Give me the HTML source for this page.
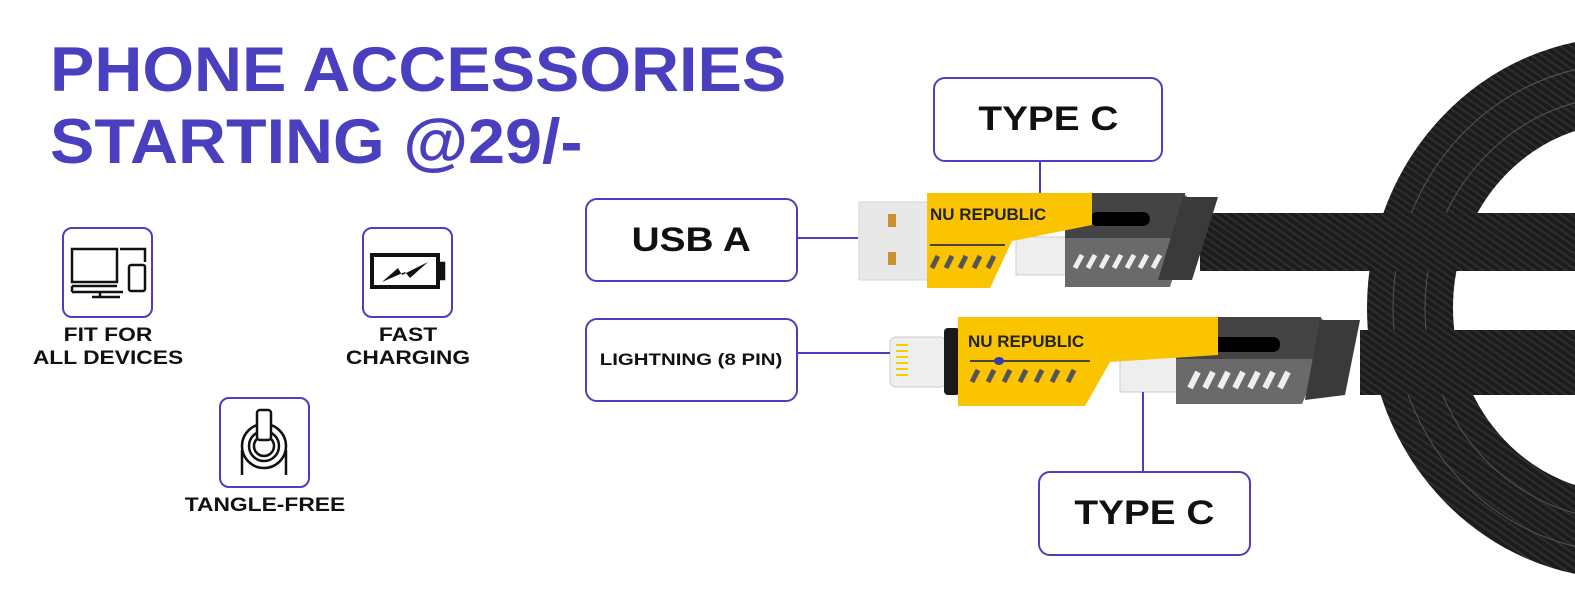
<!DOCTYPE html>
<html><head><meta charset="utf-8"><style>
body{margin:0;width:1575px;height:600px;overflow:hidden;background:#fff;font-family:"Liberation Sans",sans-serif;position:relative}
.t{position:absolute;left:50px;color:#4a3fbf;font-weight:bold;font-size:63px;line-height:1;white-space:nowrap;transform:scaleX(1.055);transform-origin:left}
.box{position:absolute;border:2px solid #4a3fbf;border-radius:12px;background:#fff;box-sizing:border-box;display:flex;align-items:center;justify-content:center;font-weight:bold;color:#111}
.box span{display:inline-block;transform:scaleX(1.14)}
.lbl{position:absolute;font-weight:bold;font-size:19px;line-height:23px;text-align:center;color:#111;white-space:nowrap;transform:scaleX(1.2)}
svg{position:absolute;left:0;top:0}
</style></head><body>
<svg width="1575" height="600">
<defs>
<pattern id="wv" width="6" height="6" patternUnits="userSpaceOnUse" patternTransform="rotate(35)"><rect width="6" height="6" fill="#1c1c1c"/><rect width="6" height="2" fill="#2e2e2e"/></pattern>
</defs>
<ellipse cx="1625" cy="308" rx="215" ry="228" fill="none" stroke="url(#wv)" stroke-width="86"/>
<ellipse cx="1625" cy="308" rx="200" ry="212" fill="none" stroke="#555" stroke-width="1"/>
<ellipse cx="1625" cy="308" rx="232" ry="244" fill="none" stroke="#555" stroke-width="1"/>
<rect x="1200" y="213" width="380" height="58" fill="url(#wv)"/>
<rect x="859" y="202" width="70" height="78" fill="#e8e8e8" stroke="#d6d6d6"/>
<rect x="888" y="214" width="8" height="13" fill="#c89030"/><rect x="888" y="252" width="8" height="13" fill="#c89030"/>
<rect x="1016" y="237" width="52" height="38" fill="#eee" stroke="#ccc"/>
<path d="M1065 193 H1183 L1196 205 L1170 287 H1065 Z" fill="#6a6a6a"/>
<rect x="1065" y="193" width="120" height="45" fill="#444"/>
<rect x="1090" y="212" width="60" height="14" rx="7" fill="#000"/>
<path d="M1183 197 H1218 L1192 280 H1158 Z" fill="#3a3a3a"/>
<g stroke="#eee" stroke-width="5"><line x1="1075" y1="268" x2="1082" y2="255"/><line x1="1088" y1="268" x2="1095" y2="255"/><line x1="1101" y1="268" x2="1108" y2="255"/><line x1="1114" y1="268" x2="1121" y2="255"/><line x1="1127" y1="268" x2="1134" y2="255"/><line x1="1140" y1="268" x2="1147" y2="255"/><line x1="1153" y1="268" x2="1160" y2="255"/></g>
<path d="M927 193 H1092 V225 L1012 241 L990 288 H927 Z" fill="#fbc400"/>
<text x="930" y="220" font-family="Liberation Sans" font-weight="bold" font-size="17" fill="#222">NU REPUBLIC</text>
<g stroke="#555" stroke-width="5"><line x1="932" y1="268" x2="938" y2="256"/><line x1="946" y1="268" x2="952" y2="256"/><line x1="960" y1="268" x2="966" y2="256"/><line x1="974" y1="268" x2="980" y2="256"/><line x1="988" y1="268" x2="994" y2="256"/></g>
<line x1="930" y1="245" x2="1005" y2="245" stroke="#444" stroke-width="2"/>
<rect x="1360" y="330" width="220" height="65" fill="url(#wv)"/>
<rect x="890" y="337" width="56" height="50" rx="6" fill="#eee" stroke="#ccc"/>
<g stroke="#f0d000" stroke-width="2"><line x1="896" y1="345" x2="908" y2="345"/><line x1="896" y1="351" x2="908" y2="351"/><line x1="896" y1="357" x2="908" y2="357"/><line x1="896" y1="363" x2="908" y2="363"/><line x1="896" y1="369" x2="908" y2="369"/><line x1="896" y1="375" x2="908" y2="375"/></g>
<rect x="944" y="328" width="16" height="67" rx="4" fill="#1a1a1a"/>
<rect x="1120" y="356" width="60" height="36" fill="#eee" stroke="#ccc"/>
<path d="M1176 317 H1320 L1334 330 L1302 404 H1176 Z" fill="#6a6a6a"/>
<rect x="1176" y="317" width="145" height="42" fill="#444"/>
<rect x="1200" y="337" width="80" height="15" rx="7" fill="#000"/>
<path d="M1320 320 H1360 L1345 395 L1305 400 Z" fill="#3a3a3a"/>
<g stroke="#eee" stroke-width="6"><line x1="1190" y1="388" x2="1198" y2="372"/><line x1="1205" y1="388" x2="1213" y2="372"/><line x1="1220" y1="388" x2="1228" y2="372"/><line x1="1235" y1="388" x2="1243" y2="372"/><line x1="1250" y1="388" x2="1258" y2="372"/><line x1="1265" y1="388" x2="1273" y2="372"/><line x1="1280" y1="388" x2="1288" y2="372"/></g>
<path d="M958 317 H1218 V355 L1110 362 L1085 406 H958 Z" fill="#fbc400"/>
<text x="968" y="347" font-family="Liberation Sans" font-weight="bold" font-size="17" fill="#222">NU REPUBLIC</text>
<line x1="970" y1="361" x2="1090" y2="361" stroke="#444" stroke-width="2"/>
<ellipse cx="999" cy="361" rx="5" ry="4" fill="#3a3ab0"/>
<g stroke="#555" stroke-width="5"><line x1="972" y1="382" x2="978" y2="370"/><line x1="988" y1="382" x2="994" y2="370"/><line x1="1004" y1="382" x2="1010" y2="370"/><line x1="1020" y1="382" x2="1026" y2="370"/><line x1="1036" y1="382" x2="1042" y2="370"/><line x1="1052" y1="382" x2="1058" y2="370"/><line x1="1068" y1="382" x2="1074" y2="370"/></g>
<g stroke="#4a3fbf" stroke-width="2">
<line x1="797" y1="238" x2="858" y2="238"/><line x1="797" y1="353" x2="890" y2="353"/>
<line x1="1040" y1="161" x2="1040" y2="193"/><line x1="1143" y1="392" x2="1143" y2="471"/></g>
<g fill="none" stroke="#111" stroke-width="2.5">
<rect x="72" y="249" width="45" height="33"/><line x1="72" y1="286" x2="117" y2="286"/><line x1="72" y1="286" x2="72" y2="292"/><line x1="72" y1="292" x2="123" y2="292"/><line x1="100" y1="292" x2="100" y2="296"/><line x1="92" y1="297" x2="120" y2="297"/>
<polyline points="120,249 145,249 145,262"/><rect x="129" y="265" width="16" height="26" rx="2"/>
<rect x="372" y="255" width="66" height="32" stroke-width="4"/><rect x="439" y="263" width="5" height="16" fill="#111"/>
<circle cx="264" cy="446" r="22"/><circle cx="264" cy="446" r="15"/><circle cx="264" cy="446" r="10"/>
<rect x="257" y="410" width="14" height="30" rx="3" fill="#fff"/>
<line x1="242" y1="450" x2="242" y2="475"/><line x1="286" y1="450" x2="286" y2="475"/>
</g>
<path d="M382 282 L398 268 L402 275 L428 262 L410 278 L405 272 Z" fill="#111"/>
</svg>
<div class="t" style="top:39px">PHONE ACCESSORIES</div>
<div class="t" style="top:111px">STARTING @29/-</div>
<div class="box" style="left:62px;top:227px;width:91px;height:91px;border-radius:10px;background:transparent"></div>
<div class="box" style="left:362px;top:227px;width:91px;height:91px;border-radius:10px;background:transparent"></div>
<div class="box" style="left:219px;top:397px;width:91px;height:91px;border-radius:10px;background:transparent"></div>
<div class="lbl" style="left:30px;width:156px;top:324px">FIT FOR<br>ALL DEVICES</div>
<div class="lbl" style="left:330px;width:156px;top:324px">FAST<br>CHARGING</div>
<div class="lbl" style="left:187px;width:156px;top:494px">TANGLE-FREE</div>
<div class="box" style="left:585px;top:198px;width:213px;height:84px;font-size:34px"><span>USB A</span></div>
<div class="box" style="left:585px;top:318px;width:213px;height:84px;font-size:17px"><span style="transform:scaleX(1.2)">LIGHTNING (8 PIN)</span></div>
<div class="box" style="left:933px;top:77px;width:230px;height:85px;font-size:34px"><span>TYPE C</span></div>
<div class="box" style="left:1038px;top:471px;width:213px;height:85px;font-size:34px"><span>TYPE C</span></div>
</body></html>
